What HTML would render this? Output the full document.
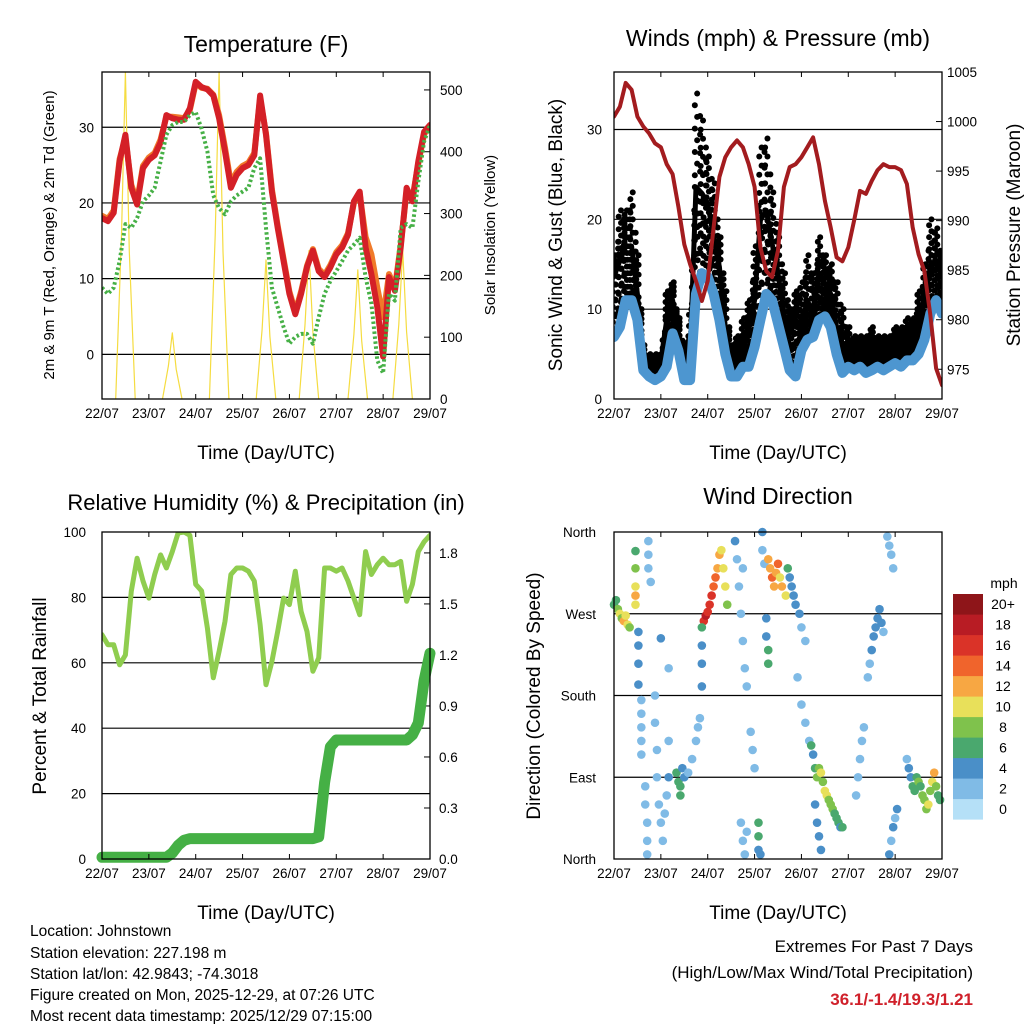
<!DOCTYPE html>
<html><head><meta charset="utf-8"><style>
html,body{margin:0;padding:0;background:#fff;}
svg{display:block;font-family:"Liberation Sans",Arial,sans-serif;}
</style></head><body>
<svg id="fig" width="1024" height="1024" viewBox="0 0 1024 1024" xmlns="http://www.w3.org/2000/svg">
<rect width="1024" height="1024" fill="#fff"/>
<g id="p1"></g>
<g id="p2"></g>
<g id="p3"></g>
<g id="p4"></g>
<g font-size="15.5" fill="#000">
<text x="30" y="936">Location: Johnstown</text>
<text x="30" y="958">Station elevation: 227.198 m</text>
<text x="30" y="979">Station lat/lon: 42.9843; -74.3018</text>
<text x="30" y="1000">Figure created on Mon, 2025-12-29, at 07:26 UTC</text>
<text x="30" y="1021">Most recent data timestamp: 2025/12/29 07:15:00</text>
</g>
<g text-anchor="end">
<text x="973" y="952" font-size="17">Extremes For Past 7 Days</text>
<text x="973" y="978" font-size="17">(High/Low/Max Wind/Total Precipitation)</text>
<text x="973" y="1005" font-size="17" font-weight="bold" fill="#d0202a">36.1/-1.4/19.3/1.21</text>
</g>
</svg>
<script>
// ---- data (sampled every 3 h, 0..168 h) ----
const dayLabels = ["22/07","23/07","24/07","25/07","26/07","27/07","28/07","29/07"];
const hours = [0,3,6,9,12,15,18,21,24,27,30,33,36,39,42,45,48,51,54,57,60,63,66,69,72,75,78,81,84,87,90,93,96,99,102,105,108,111,114,117,120,123,126,129,132,135,138,141,144,147,150,153,156,159,162,165,168];
const temp2m = [18,17.6,18.7,25.5,29,22,19.8,24.6,25.7,26.3,28,31.6,31.2,31,31,32.5,36,35.3,35,34.2,31.2,26.8,22,23.7,24.6,25,26.3,34.2,29,21.5,16.7,12.3,8,5.3,8,11.5,13.7,11,10.2,11.5,13.2,14.1,15.8,20.2,21.5,14.1,10.6,6.2,-0.3,10.2,8.4,14.1,22,20.2,25.5,29.4,30.3];
const temp9m = [18.3,17.9,19,25.8,28.6,22.4,20.2,24.9,26,26.6,28.4,31.4,31.4,31.3,31.2,32.3,35.8,35.2,35.1,34.3,31.6,27.3,22.6,24.1,24.9,25.3,26.6,33.8,29.2,21.8,17,12.6,8.3,5.6,8.3,11.7,13.9,11.3,10.5,11.8,13.5,14.4,16,20,21.2,15.5,13.2,8.8,4.9,10.6,8.8,14.4,21.5,20.6,25.2,29.1,30.2];
const dewpt = [8.8,8,8.8,12.3,17.2,16.7,18,20.2,21,22,25.5,29,30.3,30.7,30.7,31.6,32,29.8,26.8,21,19.3,18.5,20.2,21,21.5,22,24.6,25.9,16.7,8.8,6.2,3.6,1.4,2.3,2.7,2.7,1.4,4.9,8,9.7,11,12.3,13.7,14.5,15.4,10.2,6.7,-0.8,-2.5,8,7.1,16.7,17.2,16.7,22.8,28.1,30.3];
const solarHours = [12,36,60,84,106,131,154];
const solarPeaks = [530,107,530,225,240,209,241];
const pressure = [1000.5,1001.5,1003.9,1003.2,1000.5,999.5,998.8,997.8,997.4,995.7,994.7,991.4,987.6,985.6,983.9,981.9,983.9,989.3,994.4,996.4,997.4,998.1,997.4,995.7,993.4,987.3,984.9,984.3,987,993.4,995.4,995.7,996.4,997.4,998.4,995.7,992,989.3,986.3,985.9,987.3,990,993,992.7,994,995.1,995.7,995.4,995.4,995.1,993.7,989.3,986.6,984.9,980.5,975.1,973.4];
const windSpeed = [6.9,8,11,11,8.8,3.2,2.5,2.1,2.5,3.6,7.3,5.4,2.1,2.1,11.7,14,13.6,11.7,8.8,5,2.5,2.5,3.6,3.6,5.8,8.8,11.7,11,8.4,5.8,3.2,2.5,5.4,6.6,6.9,8.8,9.2,8,5,2.9,3.6,3.2,3.6,2.9,3.2,3.6,3.2,3.6,4,3.6,4.3,4.3,5,6.6,9.5,11,9.5];
const gustSpeed = [13.6,15.4,17,17,11.7,4,3.6,3.6,4.3,8.8,11,7.3,4.3,5,23.6,22.9,21.8,18,14.7,8,4.3,5,5.8,8,11,19.9,21,17.3,14,9.5,7.3,8.8,8,11,9.5,14,12.9,11.7,8,6.2,5,5,5.8,5.4,5.8,5.4,5.4,5.8,5.8,5.8,6.2,6.6,8.8,11,14.7,15.4,13.6];
const gustPeak = [16,21,21,23,16,6,5,5,5,12,13,9,6,10,34,31,27,24,18,12,6,7,9,11,17,28,29,23,18,14,10,12,13,16,14,18,16,15,13,10,8,7,7,7,8,7,7,7,8,8,9,9,12,15,20,19,16];
const relHum = [68.6,65.5,65.5,59.4,62.4,81.9,92,85,79.8,87,93,89,94,99.7,100,99,84,82,70.6,55.4,63.5,72.7,87,89,89,88,85,71.7,53.3,60.4,69.6,79.8,77.8,88,75.7,69.6,57.4,61.5,89,89,88,89,85,79.8,74.7,94,87,90,92,90,90,91,78.8,84,94,97,99];
const precip = [0.01,0.01,0.01,0.01,0.01,0.01,0.01,0.01,0.01,0.01,0.01,0.01,0.035,0.08,0.11,0.12,0.12,0.12,0.12,0.12,0.12,0.12,0.12,0.12,0.12,0.12,0.12,0.12,0.12,0.12,0.12,0.12,0.12,0.12,0.12,0.12,0.12,0.13,0.45,0.66,0.7,0.7,0.7,0.7,0.7,0.7,0.7,0.7,0.7,0.7,0.7,0.7,0.7,0.73,0.8,1.05,1.21];
// wind direction scatter: hour, degrees, speed
const dirHours = [0,1,2,3,4,5,6,7,8,11,11,11,11,11,12.5,12.5,12.5,12.5,14,14,14,14,14,16,16,17,17,17,17.6,17.6,17.6,18.8,21,21,22,22,23,24,25,26,27,28,28,32,33,34,34,35,36,38,40,42,43,44,24,28,46,47,48,49,50,51,52,53,54,55,56,57,58,45,45,45,45,62,63,64,65,66,67,68,66,65,66,67,68,70,71,72,74,74,74,75,76,76,77,79,80,81,82,83,84,85,86,88,78,78,79,79,89,90,91,92,93,95,96,98,94,96,98,100,101,102,103,104,105,106,107,108,109,110,111,112,113,114,115,116,117,103,104,105,106,124,125,126,127,128,130,131,132,133,134,135,136,137,138,140,141,142,143,141,142,143,144,145,150,151,152,153,154,155,156,157,158,159,160,161,162,163,164,165,166,167];
const dirDegrees = [280,285,275,270,265,262,268,258,255,339,320,300,290,280,250,235,215,192,175,160,145,130,115,80,60,40,20,5,350,335,320,305,180,150,120,90,60,40,20,50,70,90,130,95,85,80,70,100,90,95,110,130,145,155,243,210,262,268,272,280,290,300,310,320,335,340,320,300,280,255,235,215,190,350,330,300,270,240,210,190,320,40,20,5,30,140,120,100,40,25,10,5,360,340,325,330,320,310,300,315,325,310,300,290,265,245,230,215,320,310,300,290,280,270,255,240,200,170,150,130,125,115,100,90,100,95,85,75,70,65,60,55,50,45,40,35,35,60,40,25,10,70,90,110,130,145,200,215,230,245,255,265,275,260,250,355,345,335,320,5,20,35,45,55,110,100,90,80,75,90,85,80,70,65,55,60,75,85,95,80,70,65];
const dirSpeeds = [7,6,9,10,8,12,11,10,8,6,8,10,12,10,4,4,4,4,2,2,2,2,2,2,2,2,2,2,2,2,2,2,2,2,2,2,2,2,2,2,2,4,2,6,7,6,6,4,4,3,2,2,2,2,4,2,17,18,17,16,16,15,14,13,12,11,10,10,9,7,4,4,4,4,3,2,2,2,2,2,2,2,2,2,2,2,2,2,6,6,4,4,4,3,2,12,13,14,12,13,15,11,12,10,5,4,6,6,6,4,4,4,4,4,3,3,3,2,2,2,6,5,7,8,9,10,9,10,10,9,8,8,7,6,6,5,6,4,4,4,4,2,2,2,2,2,3,3,4,4,4,4,4,4,3,2,2,2,2,4,3,4,3,4,3,4,5,6,7,6,8,7,8,9,8,10,9,10,12,8,7,6];
const speedColors = ["#b5e0f7","#80bbe6","#4a8fc8","#4aa86e","#7fc24c","#e8e05a","#f7a743","#f0642c","#da3328","#b81c24","#8e1519"];
const speedLabels = ["0","2","4","6","8","10","12","14","16","18","20+"];
const dirLabels = ["North","East","South","West","North"];

const NS="http://www.w3.org/2000/svg";
function mk(parent,tag,attrs){const e=document.createElementNS(NS,tag);for(const k in attrs)e.setAttribute(k,attrs[k]);parent.appendChild(e);return e;}
function txt(parent,x,y,s,size,anchor,rot){const t=mk(parent,"text",{x:x,y:y,"font-size":size,"text-anchor":anchor||"middle"});if(rot)t.setAttribute("transform","rotate(-90 "+x+" "+y+")");t.textContent=s;return t;}

function panel(g,L,R,T,B){
  const P={L,R,T,B,x:h=>L+h/168*(R-L)};
  P.lin=(v0,v1)=>v=>B-(v-v0)/(v1-v0)*(B-T);
  return P;
}
function gridH(g,P,y){const l=mk(g,"line",{x1:P.L,x2:P.R,y1:y,y2:y,stroke:"#000","stroke-width":1.2});

}
function frame(g,P){
  const r=mk(g,"rect",{x:P.L,y:P.T,width:P.R-P.L,height:P.B-P.T,fill:"none",stroke:"#000","stroke-width":1.3});
  
  
  for(let d=0;d<8;d++){const x=P.x(d*24);
    mk(g,"line",{x1:x,x2:x,y1:P.B,y2:P.B-5,stroke:"#000"});
    mk(g,"line",{x1:x,x2:x,y1:P.T,y2:P.T+5,stroke:"#000"});
    const t=txt(g,x,P.B+19,dayLabels[d],13.5);
    
    }
  const xt=txt(g,(P.L+P.R)/2,P.B+60,"Time (Day/UTC)",19);
  
  
}
function poly(g,pts,attrs){return mk(g,"polyline",Object.assign({points:pts.map(p=>p[0].toFixed(1)+","+p[1].toFixed(1)).join(" "),fill:"none","stroke-linejoin":"round","stroke-linecap":"round"},attrs));}
function clip(g,P,id){const c=mk(g,"clipPath",{id:id});mk(c,"rect",{x:P.L,y:P.T,width:P.R-P.L,height:P.B-P.T});}

// ===== Panel 1: Temperature =====
(function(){
const g=document.getElementById("p1");
const P=panel(g,102,430,72,399);
const yT=P.lin(-5.9,37.3), yS=P.lin(0,529);
clip(g,P,"c1");
const t=txt(g,266,52,"Temperature (F)",23);


[0,10,20,30].forEach(v=>{gridH(g,P,yT(v));const l=txt(g,94,yT(v)+5,String(v),13.5,"end");

});
[0,100,200,300,400,500].forEach(v=>{const l=txt(g,440,yS(v)+5,String(v),13.5,"start");


mk(g,"line",{x1:P.R,x2:P.R-6,y1:yS(v),y2:yS(v),stroke:"#000"});});
const dg=mk(g,"g",{"clip-path":"url(#c1)"});
solarHours.forEach((h,i)=>{const pts=[[P.x(h-5),yS(0)],[P.x(h-2),yS(solarPeaks[i]*0.5)],[P.x(h),yS(solarPeaks[i])],[P.x(h+2),yS(solarPeaks[i]*0.45)],[P.x(h+5),yS(0)]];
const s=poly(dg,pts,{stroke:"#f5dc40","stroke-width":1.2});

});
const o=poly(dg,hours.map((h,i)=>[P.x(h),yT(temp9m[i])]),{stroke:"#f07a2a","stroke-width":6});


const r=poly(dg,hours.map((h,i)=>[P.x(h),yT(temp2m[i])]),{stroke:"#d42027","stroke-width":6});


const gr=poly(dg,hours.map((h,i)=>[P.x(h),yT(dewpt[i])]),{stroke:"#46b046","stroke-width":4,"stroke-dasharray":"2.5 2.5","stroke-linecap":"butt"});


frame(g,P);
const a=txt(g,54,235,"2m & 9m T (Red, Orange) & 2m Td (Green)",15,"middle",true);


const b=txt(g,495,235,"Solar Insolation (Yellow)",15,"middle",true);


})();

// ===== Panel 2: Winds =====
(function(){
const g=document.getElementById("p2");
const P=panel(g,614,942,72,399);
const yW=P.lin(0,36.4), yP=P.lin(972,1005);
clip(g,P,"c2");
const t=txt(g,778,46,"Winds (mph) & Pressure (mb)",23);


[0,10,20,30].forEach(v=>{if(v>0)gridH(g,P,yW(v));const l=txt(g,602,yW(v)+5,String(v),13.5,"end");

});
[975,980,985,990,995,1000,1005].forEach(v=>{const l=txt(g,947,yP(v)+5,String(v),13.5,"start");


mk(g,"line",{x1:P.R,x2:P.R-6,y1:yP(v),y2:yP(v),stroke:"#000"});});
const dg=mk(g,"g",{"clip-path":"url(#c2)"});
// gust dots spread between mean wind, gust and peak gust at each sample and half-step
const fr=[0,0.125,0.25,0.375,0.5,0.625,0.75,0.875,1];
for(let i=0;i<hours.length;i++){
  const steps=[[hours[i],windSpeed[i],gustSpeed[i],gustPeak[i]]];
  if(i<hours.length-1) steps.push([(hours[i]+hours[i+1])/2,(windSpeed[i]+windSpeed[i+1])/2,(gustSpeed[i]+gustSpeed[i+1])/2,(gustPeak[i]+gustPeak[i+1])/2-1]);
  steps.forEach((s,k)=>{
    fr.forEach((f,j)=>{
      const off=(j%2)?0.6:-0.6;
      const c1=mk(dg,"circle",{cx:P.x(s[0]+off),cy:yW(s[1]+(s[2]-s[1])*f),r:3,fill:"#000"});
      
      
      if(f>0&&(k===0||j%2===0)){const c2=mk(dg,"circle",{cx:P.x(s[0]-off),cy:yW(s[2]+(s[3]-s[2])*f),r:3,fill:"#000"});
      
      }
    });
  });
}
const gl=poly(dg,hours.map((h,i)=>[P.x(h),yW(gustSpeed[i])]),{stroke:"#000","stroke-width":5});


const bl=poly(dg,hours.map((h,i)=>[P.x(h),yW(windSpeed[i])]),{stroke:"#4d96d0","stroke-width":10});


const pl=poly(dg,hours.map((h,i)=>[P.x(h),yP(pressure[i])]),{stroke:"#a31c1f","stroke-width":4});


frame(g,P);
const a=txt(g,562,235,"Sonic Wind & Gust (Blue, Black)",19,"middle",true);


const b=txt(g,1020,235,"Station Pressure (Maroon)",19,"middle",true);


})();

// ===== Panel 3: RH & Precip =====
(function(){
const g=document.getElementById("p3");
const P=panel(g,102,430,532,859);
const yR=P.lin(0,100), yI=P.lin(0,1.923);
clip(g,P,"c3");
const t=txt(g,266,510,"Relative Humidity (%) & Precipitation (in)",22);


[0,20,40,60,80,100].forEach(v=>{if(v>0&&v<100)gridH(g,P,yR(v));const l=txt(g,86,yR(v)+5,String(v),13.5,"end");

});
[0,0.3,0.6,0.9,1.2,1.5,1.8].forEach(v=>{const l=txt(g,439,yI(v)+5,v.toFixed(1),13.5,"start");


mk(g,"line",{x1:P.R,x2:P.R-6,y1:yI(v),y2:yI(v),stroke:"#000"});});
const dg=mk(g,"g",{"clip-path":"url(#c3)"});
const rh=poly(dg,hours.map((h,i)=>[P.x(h),yR(relHum[i])]),{stroke:"#8fcd4f","stroke-width":5});


const pr=poly(g,hours.map((h,i)=>[P.x(h),yI(precip[i])]),{stroke:"#45b045","stroke-width":11});


frame(g,P);
const a=txt(g,46,696,"Percent & Total Rainfall",19,"middle",true);


})();

// ===== Panel 4: Wind direction =====
(function(){
const g=document.getElementById("p4");
const P=panel(g,614,942,532,859);
const yD=P.lin(0,360);
const t=txt(g,778,504,"Wind Direction",23);


[0,90,180,270,360].forEach((v,i)=>{if(v>0&&v<360)gridH(g,P,yD(v));const l=txt(g,596,yD(v)+5,dirLabels[i],13.5,"end");

});
dirHours.forEach((h,i)=>{const c=mk(g,"circle",{cx:P.x(h),cy:yD(dirDegrees[i]),r:4.3,fill:speedColors[Math.min(10,Math.floor(dirSpeeds[i]/2))]});

});
frame(g,P);
const a=txt(g,540,696,"Direction (Colored By Speed)",19,"middle",true);


const u=txt(g,1004,588,"mph",14);


for(let k=0;k<11;k++){const y=594+(10-k)*20.5;
const b=mk(g,"rect",{x:953,y:y,width:30,height:20.6,fill:speedColors[k]});


const l=txt(g,1003,y+15,speedLabels[k],14);

}
})();
</script>
</body></html>
